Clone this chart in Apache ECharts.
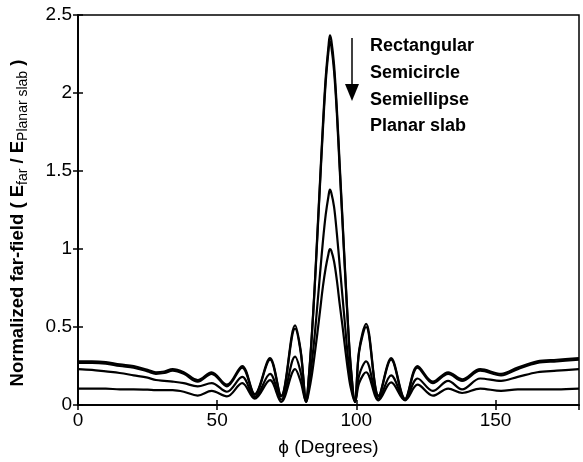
<!DOCTYPE html>
<html>
<head>
<meta charset="utf-8">
<script src="https://cdn.jsdelivr.net/npm/echarts@6/dist/echarts.min.js"></script>
<style>
  html, body { margin: 0; padding: 0; background: #fff; }
  #chart { width: 583px; height: 462px; }
</style>
</head>
<body>
<div id="chart"></div>
<script>
// phi in degrees (shared by every curve)
var phi = [0, 5, 10, 15, 20, 25, 28, 31, 34, 38, 43, 48, 53.5, 59, 63.5, 69, 73, 78, 80, 82,
  83, 84, 85, 86, 87, 88, 89, 90, 90.5, 91, 92, 93, 94, 95, 96, 97, 98, 99.5,
  101, 103.5, 108, 112.5, 117.5, 122, 127.5, 133, 138, 144.5, 152, 158, 165, 172, 180];

var rectangular = [0.28, 0.28, 0.275, 0.26, 0.25, 0.225, 0.21, 0.215, 0.23, 0.21, 0.16, 0.21, 0.13, 0.25, 0.07, 0.30, 0.06, 0.51, 0.35, 0.03,
  0.20, 0.45, 0.75, 1.10, 1.45, 1.80, 2.10, 2.30, 2.37, 2.34, 2.18, 1.90, 1.55, 1.20, 0.85, 0.52, 0.25, 0.02,
  0.35, 0.52, 0.06, 0.30, 0.04, 0.25, 0.15, 0.21, 0.165, 0.23, 0.20, 0.24, 0.28, 0.29, 0.30];

var semicircle = [0.27, 0.27, 0.265, 0.25, 0.24, 0.215, 0.20, 0.205, 0.22, 0.20, 0.15, 0.20, 0.12, 0.24, 0.065, 0.29, 0.055, 0.49, 0.34, 0.025,
  0.19, 0.44, 0.74, 1.08, 1.43, 1.77, 2.07, 2.27, 2.33, 2.30, 2.14, 1.87, 1.52, 1.18, 0.83, 0.51, 0.24, 0.02,
  0.34, 0.50, 0.055, 0.29, 0.035, 0.24, 0.14, 0.20, 0.155, 0.22, 0.19, 0.23, 0.27, 0.28, 0.29];

var semiellipse = [0.23, 0.225, 0.215, 0.205, 0.19, 0.175, 0.16, 0.155, 0.15, 0.14, 0.12, 0.14, 0.085, 0.18, 0.05, 0.20, 0.035, 0.31, 0.21, 0.02,
  0.12, 0.27, 0.44, 0.64, 0.85, 1.05, 1.22, 1.34, 1.38, 1.36, 1.27, 1.10, 0.90, 0.70, 0.50, 0.30, 0.15, 0.02,
  0.19, 0.28, 0.04, 0.19, 0.035, 0.17, 0.09, 0.155, 0.10, 0.17, 0.155, 0.18, 0.21, 0.22, 0.23];

var planarSlab = [0.105, 0.105, 0.105, 0.10, 0.10, 0.098, 0.095, 0.095, 0.095, 0.085, 0.06, 0.09, 0.055, 0.14, 0.04, 0.16, 0.02, 0.23, 0.15, 0.02,
  0.09, 0.19, 0.32, 0.46, 0.61, 0.76, 0.88, 0.97, 1.00, 0.99, 0.92, 0.80, 0.65, 0.51, 0.36, 0.22, 0.11, 0.02,
  0.14, 0.21, 0.03, 0.145, 0.03, 0.13, 0.06, 0.105, 0.077, 0.105, 0.09, 0.10, 0.10, 0.10, 0.105];

var legendNames = ['Rectangular', 'Semicircle', 'Semiellipse', 'Planar slab'];
var xTicks = [0, 50, 100, 150];
var yTicks = [0, 0.5, 1, 1.5, 2, 2.5];

var font = '"Liberation Sans", Arial, sans-serif';

function pairs(ys) {
  return phi.map(function (p, i) { return [p, ys[i]]; });
}

var allSeries = [rectangular, semicircle, semiellipse, planarSlab];

var seriesData = allSeries.map(function (ys, i) {
  return {
    name: legendNames[i],
    type: 'line',
    data: pairs(ys),
    smooth: 0.35,
    symbol: 'none',
    lineStyle: { color: '#000', width: 2.2 },
    z: 3
  };
});

var commonAxis = {
  axisLine: { show: true, lineStyle: { color: '#000', width: 1.5 } },
  axisTick: { show: true, inside: true, length: 5, lineStyle: { color: '#000', width: 1.5 } },
  splitLine: { show: false }
};

var chart = echarts.init(document.getElementById('chart'));

var legendGraphics = legendNames.map(function (n, i) {
  return {
    type: 'text',
    left: 370,
    top: 37 + i * 26.8,
    style: { text: n, font: 'bold 18px ' + font, fill: '#000' }
  };
});

chart.setOption({
  animation: false,
  backgroundColor: '#fff',
  grid: { left: 78, right: 4, top: 15, bottom: 50, show: true, borderColor: '#000', borderWidth: 1.5, containLabel: false },
  xAxis: [
    Object.assign({}, commonAxis, {
      type: 'value', min: 0, max: 180, interval: 50,
      name: 'ϕ (Degrees)', nameLocation: 'middle', nameGap: 33,
      nameTextStyle: { fontFamily: font, fontSize: 19, color: '#000' },
      axisLabel: { fontFamily: font, fontSize: 19, color: '#000', margin: 6, showMaxLabel: false,
        formatter: function (v) { return xTicks.indexOf(v) >= 0 ? String(v) : ''; } }
    }),
    Object.assign({}, commonAxis, {
      type: 'value', min: 0, max: 180, interval: 50, position: 'top', axisLabel: { show: false }
    })
  ],
  yAxis: [
    Object.assign({}, commonAxis, {
      type: 'value', min: 0, max: 2.5, interval: 0.5,
      name: '{n|Normalized far-field ( E}{s|far}{n| / E}{s|Planar slab}{n| )}',
      nameLocation: 'middle', nameGap: 48, nameRotate: 90,
      nameTextStyle: {
        padding: [0, 26, 0, 0],
        rich: {
          n: { fontFamily: font, fontSize: 18.5, fontWeight: 'bold', color: '#000' },
          s: { fontFamily: font, fontSize: 14, color: '#000', padding: [10, 0, 0, 0] }
        }
      },
      axisLabel: { fontFamily: font, fontSize: 19, color: '#000', margin: 6,
        formatter: function (v) { return yTicks.indexOf(v) >= 0 ? String(v) : ''; } }
    }),
    Object.assign({}, commonAxis, {
      type: 'value', min: 0, max: 2.5, interval: 0.5, position: 'right', axisLabel: { show: false }
    })
  ],
  graphic: legendGraphics.concat([
    {
      type: 'line',
      shape: { x1: 352, y1: 38, x2: 352, y2: 88 },
      style: { stroke: '#000', lineWidth: 1.5 }
    },
    {
      type: 'polygon',
      shape: { points: [[345, 84], [359, 84], [352, 101]] },
      style: { fill: '#000' }
    }
  ]),
  series: seriesData
});
</script>
</body>
</html>
